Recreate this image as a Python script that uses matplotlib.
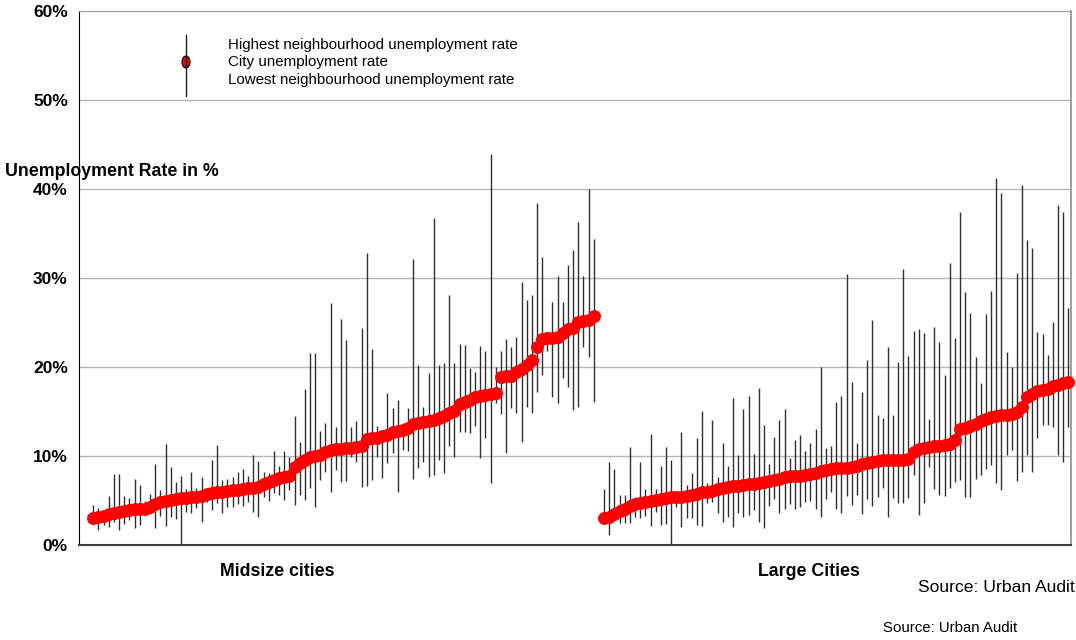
import numpy as np
import matplotlib
matplotlib.use("Agg")
from matplotlib import pyplot as plt
from matplotlib.patches import Ellipse
from matplotlib.lines import Line2D

plt.rcParams['font.family'] = ['Liberation Sans', 'DejaVu Sans']

# city unemployment rate, highest and lowest neighbourhood rate (%)
midsize_city = [3.0, 3.1, 3.3, 3.5, 3.6, 3.7, 3.8, 3.9, 4.0, 4.0,
                 4.1, 4.3, 4.6, 4.8, 5.0, 5.1, 5.2, 5.3, 5.3, 5.4,
                 5.4, 5.5, 5.7, 5.8, 5.9, 6.0, 6.1, 6.2, 6.2, 6.3,
                 6.4, 6.4, 6.5, 6.8, 7.1, 7.3, 7.5, 7.6, 7.8, 8.8,
                 9.2, 9.6, 9.9, 10.0, 10.1, 10.5, 10.7, 10.8, 10.8, 10.9,
                 10.9, 11.0, 11.1, 11.9, 12.0, 12.0, 12.2, 12.4, 12.7, 12.8,
                 12.9, 13.2, 13.6, 13.7, 13.8, 13.9, 14.0, 14.3, 14.5, 14.8,
                 15.1, 15.8, 16.1, 16.3, 16.6, 16.7, 16.9, 17.0, 17.1, 18.9,
                 19.0, 19.0, 19.4, 19.8, 20.2, 20.8, 22.2, 23.1, 23.3, 23.3,
                 23.4, 23.8, 24.3, 24.4, 25.1, 25.2, 25.3, 25.7]
midsize_high = [4.5, 4.2, 3.7, 5.5, 8.0, 8.0, 5.5, 5.3, 7.4, 6.7,
                5.0, 5.7, 9.1, 6.2, 11.4, 8.8, 7.1, 7.8, 6.3, 8.2,
                6.4, 7.6, 6.2, 9.6, 11.2, 7.3, 7.4, 7.6, 8.2, 8.5,
                7.8, 10.1, 9.4, 8.2, 8.1, 10.6, 8.9, 10.6, 9.9, 14.5,
                11.6, 17.5, 21.6, 21.6, 12.8, 13.7, 27.2, 13.3, 25.4, 23.0,
                13.3, 13.9, 24.4, 32.8, 22.0, 13.4, 12.7, 17.1, 15.4, 16.3,
                13.7, 15.4, 32.1, 20.2, 15.5, 19.3, 36.7, 20.2, 20.4, 28.1,
                20.4, 22.6, 22.5, 19.9, 19.4, 22.4, 21.8, 43.9, 20.0, 21.8,
                23.1, 22.2, 23.4, 29.6, 27.5, 28.1, 38.4, 32.4, 23.9, 27.3,
                30.2, 27.3, 31.5, 33.1, 36.3, 30.2, 40.0, 34.4]
midsize_low = [2.8, 1.7, 2.2, 2.0, 2.6, 1.7, 2.4, 2.8, 1.9, 2.3,
               3.5, 3.6, 1.9, 3.3, 2.1, 3.1, 2.9, 0.0, 3.7, 3.6,
               4.2, 2.6, 4.8, 3.9, 4.7, 3.6, 4.3, 4.3, 4.6, 4.4,
               4.8, 3.7, 3.1, 5.4, 4.9, 5.8, 5.6, 5.1, 6.2, 4.5,
               5.6, 5.1, 6.4, 4.3, 7.3, 8.2, 6.0, 8.4, 7.1, 7.2,
               9.9, 9.3, 6.5, 6.6, 7.3, 9.9, 7.5, 9.2, 10.3, 6.0,
               10.7, 10.6, 7.4, 8.7, 9.3, 7.6, 7.9, 9.5, 8.1, 11.1,
               9.9, 12.7, 12.7, 12.6, 13.4, 9.8, 12.0, 7.0, 16.0, 14.7,
               10.3, 15.4, 14.8, 11.6, 15.5, 14.8, 17.2, 19.1, 21.8, 16.6,
               16.0, 18.8, 17.8, 15.2, 15.5, 22.2, 21.1, 16.1]

large_city = [3.0, 3.2, 3.5, 3.8, 4.1, 4.4, 4.6, 4.7, 4.8, 5.0,
              5.1, 5.2, 5.3, 5.4, 5.4, 5.4, 5.5, 5.6, 5.7, 5.9,
              6.0, 6.1, 6.3, 6.4, 6.5, 6.6, 6.6, 6.7, 6.8, 6.9,
              7.0, 7.1, 7.2, 7.3, 7.4, 7.6, 7.7, 7.8, 7.8, 7.9,
              8.0, 8.1, 8.3, 8.4, 8.5, 8.6, 8.6, 8.7, 8.8, 8.9,
              9.1, 9.2, 9.3, 9.4, 9.5, 9.6, 9.6, 9.6, 9.6, 9.7,
              10.5, 10.8, 10.9, 11.0, 11.1, 11.1, 11.2, 11.4, 11.8, 13.0,
              13.2, 13.4, 13.6, 13.9, 14.2, 14.4, 14.5, 14.6, 14.6, 14.7,
              14.9, 15.5, 16.6, 17.0, 17.3, 17.4, 17.5, 17.9, 18.0, 18.2,
              18.3]
large_high = [6.3, 9.3, 8.5, 5.6, 5.6, 11.0, 5.4, 9.3, 6.3, 12.5,
              6.3, 8.9, 11.0, 9.6, 6.1, 12.7, 6.7, 8.1, 12.0, 15.1,
              7.0, 14.0, 7.6, 11.5, 8.9, 16.5, 10.1, 15.3, 16.7, 10.2,
              17.6, 13.5, 9.1, 12.1, 14.0, 15.3, 9.8, 11.8, 12.4, 10.6,
              11.5, 13.0, 20.0, 10.9, 11.1, 16.1, 16.7, 30.4, 18.3, 11.5,
              17.2, 20.8, 25.3, 14.6, 14.3, 22.2, 14.6, 20.6, 31.0, 21.2,
              24.0, 24.3, 23.8, 14.2, 24.5, 22.8, 19.1, 31.7, 23.3, 37.4,
              28.4, 26.1, 21.1, 18.2, 26.0, 28.5, 41.2, 39.6, 21.7, 20.0,
              30.6, 40.4, 34.3, 33.4, 23.9, 23.7, 21.3, 25.1, 38.2, 37.4,
              26.6]
large_low = [2.7, 1.1, 3.6, 2.5, 2.5, 2.5, 3.1, 3.0, 3.3, 2.1,
             3.7, 2.2, 2.4, 0.0, 4.3, 2.0, 3.0, 3.0, 2.2, 2.1,
             4.7, 4.8, 3.6, 2.6, 3.1, 2.0, 3.6, 3.1, 3.4, 3.9,
             2.6, 1.9, 4.4, 5.2, 3.6, 4.0, 4.6, 4.0, 4.3, 4.8,
             4.9, 4.0, 3.1, 5.2, 6.0, 4.0, 3.6, 5.5, 4.5, 5.6,
             3.5, 5.2, 4.4, 5.4, 6.4, 3.1, 5.3, 4.7, 4.7, 5.3,
             7.9, 3.4, 4.7, 8.8, 6.3, 5.6, 5.5, 6.4, 7.1, 7.3,
             5.4, 5.4, 7.4, 7.9, 8.5, 9.0, 7.0, 6.2, 10.1, 10.7,
             7.2, 8.2, 10.1, 8.2, 12.0, 13.5, 13.5, 13.3, 10.1, 9.3,
             13.3]

yticks = [0, 10, 20, 30, 40, 50, 60]

x_mid = np.arange(len(midsize_city))
x_large = np.arange(len(large_city)) + len(midsize_city) + 1

W, H = 1076, 640
fig = plt.figure(figsize=(W / 100, H / 100), dpi=100)
ax = fig.add_axes([79 / W, 1 - 545 / H, (1071 - 79) / W, (545 - 11) / H])

for y in yticks[1:]:
    ax.axhline(y, color="#b4b4b4", lw=1.0, zorder=0)

ax.vlines(x_mid, midsize_low, midsize_high, color="#303030", lw=1.0, zorder=2)
ax.vlines(x_large, large_low, large_high, color="#303030", lw=1.0, zorder=2)
ax.plot(x_mid, midsize_city, "o", color="red", ms=8.3, mec="red", zorder=3, clip_on=False)
ax.plot(x_large, large_city, "o", color="red", ms=8.3, mec="red", zorder=3, clip_on=False)

ax.set_xlim(-2.77, 189.5)
ax.set_ylim(0, 60)
ax.set_xticks([])
ax.set_yticks(yticks)
ax.set_yticklabels([f"{v}%" for v in yticks], fontsize=12.5, fontweight="bold")
ax.tick_params(axis="y", length=0, pad=8)

ax.spines["left"].set_color("black")
ax.spines["bottom"].set_color("#404040")
ax.spines["bottom"].set_linewidth(1.5)
ax.spines["top"].set_color("#a0a0a0")
ax.spines["right"].set_color("#a0a0a0")
ax.spines["right"].set_linewidth(1.5)

fig.text(5 / W, 1 - 171 / H, "Unemployment Rate in %", fontsize=12.8,
         fontweight="bold", ha="left", va="center")
fig.text(277 / W, 1 - 572 / H, "Midsize cities", fontsize=12.8,
         fontweight="bold", ha="center", va="center")
fig.text(809 / W, 1 - 572 / H, "Large Cities", fontsize=12.8,
         fontweight="bold", ha="center", va="center")
fig.text(1075 / W, 1 - 587 / H, "Source: Urban Audit", fontsize=12.6,
         ha="right", va="center")
fig.text(950 / W, 1 - 628 / H, "Source: Urban Audit", fontsize=10.8,
         ha="center", va="center")

# legend drawn by hand
fig.add_artist(Line2D([186 / W, 186 / W], [1 - 35 / H, 1 - 96 / H],
                      color="#202020", lw=1.0, transform=fig.transFigure))
fig.add_artist(Ellipse((186 / W, 1 - 62 / H), 8 / W, 12 / H,
                       transform=fig.transFigure, fc="red", ec="black", lw=0.8))
for ty, txt in [(45, "Highest neighbourhood unemployment rate"),
                (62, "City unemployment rate"),
                (80, "Lowest neighbourhood unemployment rate")]:
    fig.text(228 / W, 1 - ty / H, txt, fontsize=10.9, ha="left", va="center")

fig.savefig("out.png", dpi=100)
